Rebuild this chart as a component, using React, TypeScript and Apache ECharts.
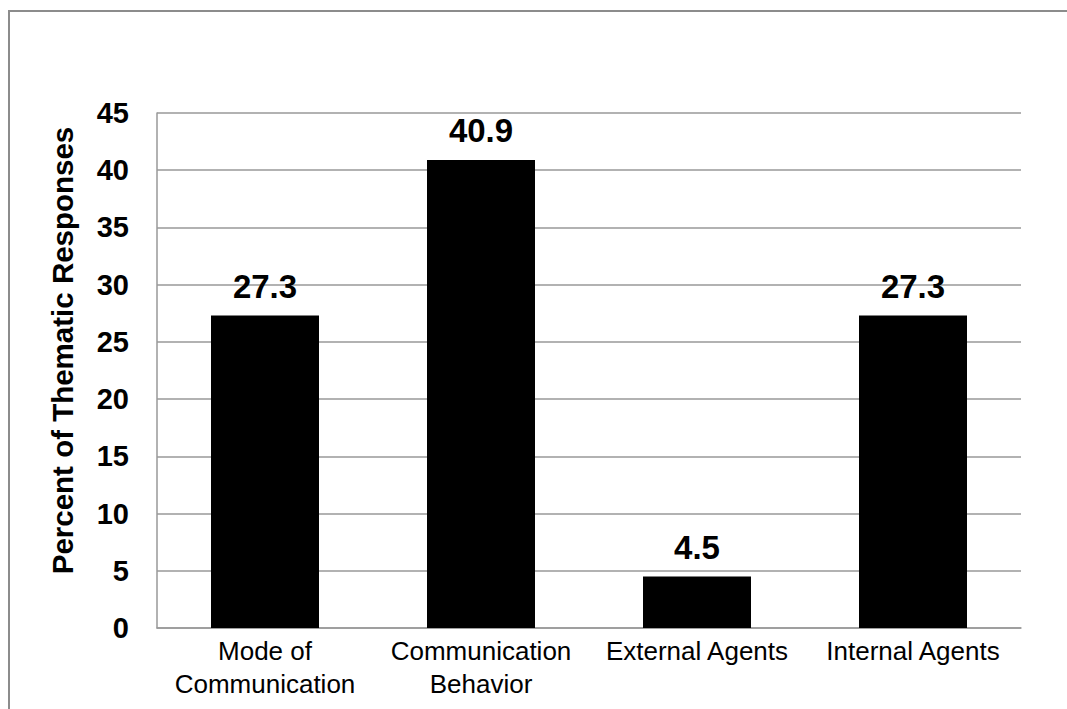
import React, { useEffect, useRef } from "react";
import * as echarts from "echarts";

const categories = ["Mode of\nCommunication", "Communication\nBehavior", "External Agents", "Internal Agents"];
const percents = [27.3, 40.9, 4.5, 27.3];
const yAxisName = "Percent of Thematic Responses";

export default function App() {
  const ref = useRef<HTMLDivElement>(null);

  useEffect(() => {
    if (!ref.current) return;
    const chart = echarts.init(ref.current, null, { renderer: "svg" });
    chart.setOption({
      animation: false,
      backgroundColor: "transparent",
      textStyle: { fontFamily: "Liberation Sans, Arial, sans-serif" },
      grid: { left: 157, top: 113, right: 46, bottom: 81, containLabel: false },
      xAxis: {
        type: "category",
        data: categories,
        axisLine: { show: true, lineStyle: { color: "#999", width: 1.5 } },
        axisTick: { show: false },
        axisLabel: {
          color: "#000",
          fontSize: 26,
          lineHeight: 33,
          margin: 6,
          interval: 0,
        },
      },
      yAxis: {
        type: "value",
        min: 0,
        max: 45,
        interval: 5,
        name: yAxisName,
        nameLocation: "middle",
        nameGap: 80,
        nameTextStyle: {
          color: "#000",
          fontSize: 29.5,
          fontWeight: "bold",
          padding: [0, 0, 0, 40],
        },
        axisLine: { show: true, lineStyle: { color: "#999", width: 1.5 } },
        axisTick: { show: false },
        axisLabel: { color: "#000", fontSize: 29, fontWeight: "bold", margin: 28 },
        splitLine: { show: true, lineStyle: { color: "#999", width: 1.5 } },
      },
      series: [
        {
          type: "bar",
          data: percents,
          barWidth: "50%",
          itemStyle: { color: "#000" },
          label: {
            show: true,
            position: "top",
            distance: 13,
            color: "#000",
            fontSize: 33,
            fontWeight: "bold",
            formatter: (p: any) => p.value.toFixed(1),
          },
        },
      ],
    });
    return () => chart.dispose();
  }, []);

  // Outer frame edges: a top rule and a left rule.
  return (
    <div style={{ position: "fixed", left: 0, top: 0, width: 1067, height: 709, overflow: "hidden", background: "#fff" }}>
      <div style={{ position: "absolute", left: 8, top: 10, width: 1059, height: 2, background: "#8c8c8c" }} />
      <div style={{ position: "absolute", left: 8, top: 10, width: 2, height: 699, background: "#8c8c8c" }} />
      <div
        ref={ref}
        style={{ position: "absolute", left: 0, top: 0, width: 1067, height: 709 }}
      />
    </div>
  );
}
